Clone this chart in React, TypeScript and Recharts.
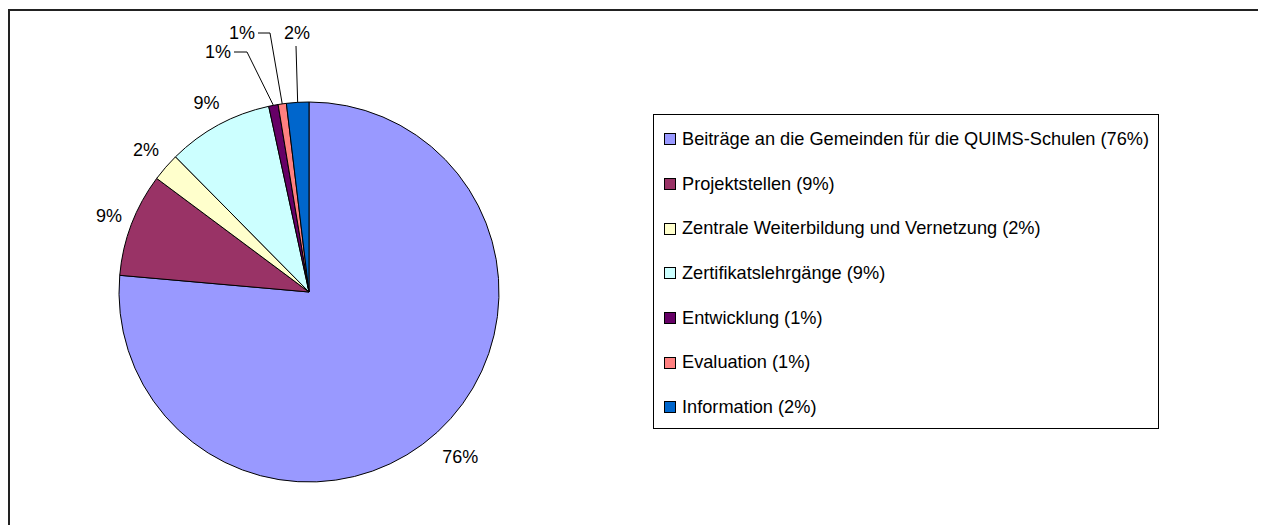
import { PieChart, Pie, Cell, Legend } from "recharts";

const categories = [
  "Beiträge an die Gemeinden für die QUIMS-Schulen",
  "Projektstellen",
  "Zentrale Weiterbildung und Vernetzung",
  "Zertifikatslehrgänge",
  "Entwicklung",
  "Evaluation",
  "Information",
];
const shares = [76.4, 8.8, 2.4, 9.0, 0.8, 0.7, 1.9];
const colors = ["#9999FF", "#993366", "#FFFFCC", "#CCFFFF", "#660066", "#FF8080", "#0066CC"];

const total = shares.reduce((a, b) => a + b, 0);
const pct = (v: number) => `${Math.round((v / total) * 100)}%`;
const chartData = categories.map((name, i) => ({ name, value: shares[i] }));

const FONT = "'Liberation Sans', Arial, Helvetica, sans-serif";
const RAD = Math.PI / 180;

// distance from pie edge to label centre for the big slices
const labelGap = [34, 24, 26, 25];
// the thin slices get their label pulled out with a leader line (offset from pie centre)
const leaderLabels: Record<number, { dx: number; dy: number; elbow: number }> = {
  4: { dx: -91, dy: -240, elbow: 29 },
  5: { dx: -67, dy: -259, elbow: 28 },
  6: { dx: -12, dy: -259, elbow: 0 },
};

const renderLabel = (props: any) => {
  const { cx, cy, midAngle, outerRadius, index } = props;
  const cos = Math.cos(-midAngle * RAD);
  const sin = Math.sin(-midAngle * RAD);
  const text = pct(shares[index]);
  const lead = leaderLabels[index];
  const textProps = {
    textAnchor: "middle" as const,
    dominantBaseline: "central" as const,
    fontFamily: FONT,
    fontSize: 18,
    fill: "#000",
  };
  if (!lead) {
    const r = outerRadius + labelGap[index];
    return (
      <text x={cx + r * cos} y={cy + r * sin} {...textProps}>
        {text}
      </text>
    );
  }
  const ax = cx + outerRadius * cos;
  const ay = cy + outerRadius * sin;
  const tx = cx + lead.dx;
  const ty = cy + lead.dy;
  const pts = lead.elbow
    ? `${ax},${ay} ${tx + lead.elbow},${ty} ${tx + 16},${ty}`
    : `${ax},${ay} ${tx - 1},${ty + 13}`;
  return (
    <g>
      <polyline points={pts} fill="none" stroke="#000" strokeWidth={1} />
      <text x={tx} y={ty} {...textProps}>
        {text}
      </text>
    </g>
  );
};

const LegendBox = () => (
  <div
    style={{
      border: "1px solid #000",
      width: 506,
      height: 315,
      boxSizing: "border-box",
      paddingTop: 2,
      paddingLeft: 10,
      fontFamily: FONT,
      fontSize: 18.2,
      color: "#000",
      background: "#fff",
    }}
  >
    {categories.map((c, i) => (
      <div key={c} style={{ display: "flex", alignItems: "center", height: 44.7 }}>
        <span
          style={{
            width: 12,
            height: 12,
            boxSizing: "border-box",
            background: colors[i],
            border: "1px solid #000",
            marginRight: 6,
            flexShrink: 0,
          }}
        />
        <span style={{ whiteSpace: "nowrap" }}>
          {c} ({pct(shares[i])})
        </span>
      </div>
    ))}
  </div>
);

export default function App() {
  return (
    <div
      style={{
        position: "relative",
        top: 1,
        width: 1258,
        height: 517,
        boxSizing: "border-box",
        borderTop: "2px solid #222",
        borderLeft: "2px solid #222",
        background: "#fff",
      }}
    >
      <PieChart width={1256} height={515} margin={{ top: 0, right: 0, bottom: 0, left: 0 }}>
        <Pie
          data={chartData}
          dataKey="value"
          nameKey="name"
          cx={299}
          cy={281}
          outerRadius={190}
          startAngle={90}
          endAngle={-270}
          stroke="#000"
          strokeWidth={1}
          label={renderLabel}
          labelLine={false}
          isAnimationActive={false}
        >
          {chartData.map((d, i) => (
            <Cell key={d.name} fill={colors[i]} />
          ))}
        </Pie>
        <Legend
          content={LegendBox}
          layout="vertical"
          verticalAlign="middle"
          align="right"
          wrapperStyle={{ left: 643, top: 103, width: 506, height: 315 }}
        />
      </PieChart>
    </div>
  );
}
